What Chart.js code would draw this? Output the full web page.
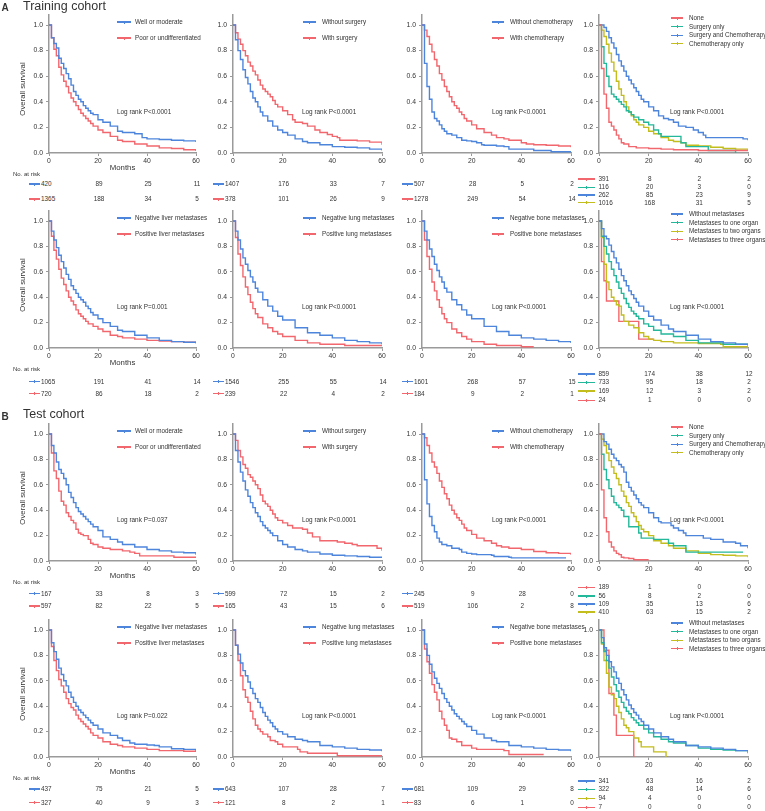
<!DOCTYPE html>
<html><head><meta charset="utf-8">
<script src="https://cdn.jsdelivr.net/npm/chart.js@4.4.1/dist/chart.umd.min.js"></script>
<style>
html,body{margin:0;padding:0;background:#fff}
body{width:765px;height:811px;position:relative;overflow:hidden;font-family:"Liberation Sans",Arial,sans-serif;color:#333}
.abs{position:absolute;white-space:nowrap;line-height:1}
canvas{position:absolute}
</style></head><body>
<script>
// ---------------- DATA ----------------
const riskMonths = [0, 20, 40, 60];

// A. Training cohort
const A1_labels = ['Well or moderate', 'Poor or undifferentiated'];
const A1_well = [[0,1],[1,0.9],[2,0.855],[3,0.82],[4,0.74],[5,0.70],[6,0.66],[7,0.62],[8,0.58],[9,0.53],[10,0.48],[11,0.45],[12,0.42],[13,0.40],[14,0.37],[15,0.35],[16,0.33],[17,0.31],[18,0.30],[20,0.26],[22,0.24],[25,0.21],[28,0.17],[30,0.16],[35,0.15],[38,0.12],[40,0.11],[45,0.105],[50,0.10],[55,0.095],[60,0.085]];
const A1_poor = [[0,1],[1,0.9],[2,0.81],[3,0.76],[4,0.67],[5,0.61],[6,0.56],[7,0.52],[8,0.47],[9,0.43],[10,0.40],[11,0.37],[12,0.34],[13,0.31],[14,0.29],[15,0.27],[16,0.25],[17,0.23],[18,0.21],[20,0.18],[22,0.16],[25,0.13],[28,0.10],[30,0.09],[35,0.07],[40,0.055],[45,0.04],[50,0.035],[55,0.025],[60,0.015]];
const A1_risk = [[420,89,25,11],[1365,188,34,5]];
const A1_p = 'Log rank P<0.0001';

const A2_labels = ['Without surgery', 'With surgery'];
const A2_without = [[0,1],[1,0.885],[2,0.80],[3,0.73],[4,0.65],[5,0.59],[6,0.54],[7,0.48],[8,0.43],[9,0.40],[10,0.36],[11,0.32],[12,0.29],[14,0.25],[16,0.21],[18,0.18],[20,0.16],[22,0.14],[25,0.11],[28,0.09],[30,0.08],[35,0.065],[40,0.05],[45,0.045],[50,0.04],[55,0.03],[60,0.02]];
const A2_with = [[0,1],[1,0.94],[2,0.89],[3,0.85],[4,0.80],[5,0.76],[6,0.71],[7,0.68],[8,0.64],[9,0.61],[10,0.57],[11,0.53],[12,0.50],[13,0.48],[14,0.46],[15,0.44],[16,0.41],[17,0.38],[18,0.36],[20,0.33],[22,0.30],[24,0.26],[25,0.24],[28,0.23],[30,0.21],[33,0.18],[35,0.16],[38,0.145],[40,0.13],[42,0.12],[43,0.10],[50,0.095],[55,0.085],[60,0.065]];
const A2_risk = [[1407,176,33,7],[378,101,26,9]];
const A2_p = 'Log rank P<0.0001';

const A3_labels = ['Without chemotherapy', 'With chemotherapy'];
const A3_without = [[0,1],[1,0.70],[2,0.52],[3,0.42],[4,0.32],[5,0.27],[6,0.25],[7,0.22],[8,0.19],[9,0.17],[10,0.15],[12,0.14],[14,0.12],[16,0.10],[18,0.095],[20,0.09],[22,0.08],[24,0.065],[25,0.06],[30,0.055],[33,0.05],[35,0.03],[45,0.02],[52,0.01],[60,0.005]];
const A3_with = [[0,1],[1,0.96],[2,0.91],[3,0.85],[4,0.79],[5,0.73],[6,0.68],[7,0.62],[8,0.57],[9,0.52],[10,0.48],[11,0.44],[12,0.40],[13,0.37],[14,0.35],[15,0.32],[16,0.30],[17,0.27],[18,0.25],[20,0.22],[22,0.19],[25,0.16],[28,0.14],[30,0.12],[33,0.11],[35,0.10],[40,0.08],[42,0.07],[45,0.065],[50,0.06],[55,0.055],[60,0.045]];
const A3_risk = [[507,28,5,2],[1278,249,54,14]];
const A3_p = 'Log rank P<0.0001';

const A4_labels = ['None', 'Surgery only', 'Surgery and Chemotherapy', 'Chemotherapy only'];
const A4_none = [[0,1],[1,0.66],[2,0.46],[3,0.35],[4,0.24],[5,0.21],[6,0.18],[7,0.14],[8,0.11],[9,0.08],[10,0.07],[12,0.05],[15,0.04],[20,0.035],[25,0.03],[30,0.025],[40,0.02],[50,0.02],[60,0.015]];
const A4_surg = [[0,1],[1,0.83],[2,0.70],[3,0.60],[4,0.52],[5,0.46],[6,0.44],[7,0.42],[8,0.40],[9,0.38],[10,0.36],[11,0.33],[12,0.32],[13,0.30],[14,0.28],[16,0.26],[18,0.24],[20,0.22],[22,0.18],[24,0.15],[25,0.13],[33,0.08],[35,0.05],[43,0.05],[44,0.02],[55,0]];
const A4_both = [[0,1],[2,0.98],[3,0.95],[4,0.90],[5,0.86],[6,0.82],[7,0.77],[8,0.72],[9,0.68],[10,0.64],[11,0.60],[12,0.57],[13,0.54],[14,0.51],[15,0.48],[16,0.45],[17,0.42],[18,0.40],[20,0.36],[22,0.33],[24,0.29],[26,0.27],[28,0.26],[30,0.24],[32,0.21],[35,0.20],[38,0.18],[40,0.16],[42,0.14],[43,0.12],[55,0.12],[58,0.11],[60,0.10]];
const A4_chemo = [[0,1],[1,0.96],[2,0.91],[3,0.85],[4,0.78],[5,0.71],[6,0.64],[7,0.56],[8,0.50],[9,0.45],[10,0.40],[11,0.36],[12,0.32],[13,0.29],[14,0.26],[15,0.24],[16,0.22],[18,0.20],[20,0.17],[22,0.15],[25,0.12],[28,0.10],[30,0.09],[33,0.08],[35,0.06],[40,0.055],[45,0.045],[50,0.035],[55,0.03],[60,0.02]];
const A4_risk = [[391,8,2,2],[116,20,3,0],[262,85,23,9],[1016,168,31,5]];
const A4_p = 'Log rank P<0.0001';

const A5_labels = ['Negative liver metastases', 'Positive liver metastases'];
const A5_neg = [[0,1],[1,0.92],[2,0.85],[3,0.79],[4,0.73],[5,0.68],[6,0.63],[7,0.58],[8,0.54],[9,0.49],[10,0.46],[11,0.43],[12,0.40],[13,0.38],[14,0.36],[15,0.33],[16,0.31],[17,0.28],[18,0.26],[20,0.23],[22,0.20],[25,0.17],[28,0.14],[30,0.13],[35,0.10],[40,0.08],[45,0.06],[50,0.05],[55,0.045],[60,0.035]];
const A5_pos = [[0,1],[1,0.88],[2,0.77],[3,0.70],[4,0.62],[5,0.55],[6,0.50],[7,0.45],[8,0.40],[9,0.37],[10,0.34],[11,0.30],[12,0.27],[13,0.25],[14,0.23],[15,0.21],[16,0.19],[18,0.17],[20,0.15],[22,0.13],[25,0.10],[28,0.09],[30,0.08],[35,0.07],[40,0.06],[45,0.055],[50,0.05],[55,0.045],[60,0.04]];
const A5_risk = [[1065,191,41,14],[720,86,18,2]];
const A5_p = 'Log rank P=0.001';

const A6_labels = ['Negative lung metastases', 'Positive lung metastases'];
const A6_neg = [[0,1],[1,0.92],[2,0.85],[3,0.78],[4,0.71],[5,0.66],[6,0.61],[7,0.56],[8,0.52],[9,0.47],[10,0.44],[12,0.38],[14,0.33],[16,0.29],[18,0.25],[20,0.22],[25,0.16],[30,0.12],[35,0.10],[40,0.08],[45,0.06],[50,0.05],[55,0.04],[60,0.03]];
const A6_pos = [[0,1],[1,0.87],[2,0.74],[3,0.65],[4,0.56],[5,0.48],[6,0.42],[7,0.36],[8,0.31],[9,0.27],[10,0.24],[12,0.19],[14,0.16],[16,0.13],[18,0.11],[20,0.09],[25,0.06],[30,0.04],[35,0.03],[45,0.02],[60,0.02]];
const A6_risk = [[1546,255,55,14],[239,22,4,2]];
const A6_p = 'Log rank P<0.0001';

const A7_labels = ['Negative bone metastases', 'Positive bone metastases'];
const A7_neg = [[0,1],[1,0.92],[2,0.85],[3,0.78],[4,0.72],[5,0.66],[6,0.61],[7,0.56],[8,0.52],[9,0.47],[10,0.44],[12,0.38],[14,0.34],[16,0.30],[18,0.26],[20,0.23],[25,0.17],[30,0.13],[35,0.10],[40,0.08],[45,0.07],[50,0.06],[55,0.05],[60,0.04]];
const A7_pos = [[0,1],[1,0.85],[2,0.72],[3,0.62],[4,0.52],[5,0.45],[6,0.38],[7,0.32],[8,0.27],[9,0.23],[10,0.20],[12,0.15],[14,0.12],[16,0.09],[18,0.07],[20,0.05],[25,0.03],[30,0.02],[40,0.01],[45,0.01]];
const A7_risk = [[1601,268,57,15],[184,9,2,1]];
const A7_p = 'Log rank P<0.0001';

const A8_labels = ['Without metastases', 'Metastases to one organ', 'Metastases to two organs', 'Metastases to three organs'];
const A8_none = [[0,1],[1,0.94],[2,0.88],[3,0.86],[4,0.81],[5,0.76],[6,0.71],[7,0.67],[8,0.62],[9,0.57],[10,0.53],[11,0.49],[12,0.45],[13,0.42],[14,0.39],[15,0.36],[16,0.33],[18,0.29],[20,0.25],[22,0.22],[25,0.18],[28,0.15],[30,0.13],[35,0.10],[40,0.07],[45,0.05],[50,0.04],[55,0.03],[60,0.02]];
const A8_one = [[0,1],[1,0.88],[2,0.80],[3,0.74],[4,0.68],[5,0.62],[6,0.57],[7,0.52],[8,0.47],[9,0.43],[10,0.39],[11,0.35],[12,0.32],[13,0.29],[14,0.27],[15,0.25],[16,0.23],[18,0.19],[20,0.17],[22,0.14],[25,0.11],[30,0.09],[35,0.06],[40,0.04],[50,0.03],[60,0.02]];
const A8_two = [[0,1],[1,0.87],[2,0.66],[3,0.52],[4,0.46],[5,0.40],[6,0.37],[7,0.34],[8,0.33],[9,0.26],[10,0.21],[12,0.18],[14,0.16],[16,0.12],[18,0.09],[20,0.07],[22,0.06],[25,0.05],[30,0.04],[40,0.035],[49,0.03],[50,0.01],[60,0.01]];
const A8_three = [[0,1],[1,0.68],[2,0.53],[3,0.37],[8,0.21],[16,0.07],[22,0.07]];
const A8_risk = [[859,174,38,12],[733,95,18,2],[169,12,3,2],[24,1,0,0]];
const A8_p = 'Log rank P<0.0001';

// B. Test cohort
const B1_well = [[0,1],[1,0.91],[2,0.85],[3,0.78],[4,0.72],[5,0.69],[6,0.65],[7,0.60],[8,0.54],[9,0.50],[10,0.46],[11,0.42],[12,0.39],[13,0.37],[14,0.35],[15,0.33],[16,0.31],[17,0.29],[18,0.27],[20,0.24],[22,0.19],[25,0.17],[28,0.15],[30,0.13],[35,0.11],[40,0.09],[45,0.08],[50,0.07],[55,0.065],[60,0.05]];
const B1_poor = [[0,1],[1,0.85],[2,0.71],[3,0.65],[4,0.55],[5,0.47],[6,0.44],[7,0.38],[8,0.35],[9,0.32],[10,0.30],[11,0.25],[12,0.22],[13,0.21],[14,0.20],[16,0.17],[17,0.14],[18,0.13],[20,0.11],[22,0.10],[25,0.09],[30,0.08],[33,0.07],[35,0.06],[37,0.04],[50,0.04],[51,0.03],[60,0.03]];
const B1_risk = [[167,33,8,3],[597,82,22,5]];
const B1_p = 'Log rank P=0.037';

const B2_without = [[0,1],[1,0.87],[2,0.78],[3,0.70],[4,0.63],[5,0.56],[6,0.51],[7,0.46],[8,0.42],[9,0.38],[10,0.35],[11,0.31],[12,0.28],[13,0.26],[14,0.24],[15,0.22],[16,0.20],[18,0.16],[20,0.13],[22,0.11],[25,0.09],[28,0.08],[30,0.07],[35,0.055],[40,0.045],[45,0.04],[50,0.035],[55,0.03],[60,0.025]];
const B2_with = [[0,1],[1,0.95],[2,0.87],[3,0.82],[4,0.76],[5,0.73],[6,0.68],[7,0.66],[8,0.63],[9,0.60],[10,0.57],[11,0.52],[12,0.47],[13,0.45],[14,0.43],[15,0.40],[16,0.37],[17,0.34],[18,0.32],[20,0.30],[22,0.28],[24,0.26],[28,0.25],[30,0.22],[32,0.19],[35,0.16],[40,0.16],[42,0.15],[45,0.14],[48,0.13],[50,0.12],[55,0.12],[58,0.10],[60,0.08]];
const B2_risk = [[599,72,15,2],[165,43,15,6]];
const B2_p = 'Log rank P<0.0001';

const B3_without = [[0,1],[1,0.64],[2,0.45],[3,0.35],[4,0.28],[5,0.23],[6,0.18],[7,0.15],[8,0.13],[10,0.12],[12,0.10],[15,0.09],[16,0.07],[18,0.06],[20,0.055],[22,0.05],[28,0.045],[29,0.035],[35,0.03],[36,0.025],[58,0.025]];
const B3_with = [[0,1],[1,0.97],[2,0.91],[3,0.85],[4,0.78],[5,0.74],[6,0.69],[7,0.63],[8,0.58],[9,0.53],[10,0.49],[11,0.44],[12,0.40],[13,0.37],[14,0.34],[15,0.32],[16,0.29],[17,0.26],[18,0.24],[20,0.21],[22,0.18],[25,0.16],[28,0.14],[30,0.12],[32,0.11],[35,0.10],[40,0.09],[45,0.075],[50,0.065],[55,0.06],[60,0.05]];
const B3_risk = [[245,9,28,0],[519,106,2,8]];
const B3_p = 'Log rank P<0.0001';

const B4_none = [[0,1],[1,0.56],[2,0.34],[3,0.23],[4,0.15],[5,0.11],[6,0.08],[7,0.06],[8,0.05],[9,0.03],[10,0.025],[12,0.02],[14,0.01],[20,0.01]];
const B4_surg = [[0,1],[1,0.84],[2,0.72],[3,0.64],[4,0.57],[5,0.51],[6,0.46],[7,0.44],[8,0.42],[9,0.40],[10,0.35],[12,0.27],[16,0.22],[17,0.18],[22,0.17],[28,0.14],[30,0.12],[35,0.07],[58,0.07]];
const B4_both = [[0,1],[2,0.94],[3,0.92],[4,0.88],[5,0.84],[6,0.81],[7,0.79],[8,0.76],[9,0.74],[10,0.70],[11,0.62],[12,0.58],[13,0.55],[14,0.52],[15,0.49],[16,0.46],[17,0.44],[18,0.42],[20,0.38],[22,0.34],[24,0.31],[25,0.30],[29,0.28],[30,0.26],[32,0.24],[34,0.22],[35,0.20],[40,0.20],[42,0.18],[45,0.17],[50,0.15],[55,0.14],[57,0.12],[60,0.10]];
const B4_chemo = [[0,1],[1,0.96],[2,0.91],[3,0.85],[4,0.79],[5,0.74],[6,0.69],[7,0.65],[8,0.60],[9,0.55],[10,0.51],[11,0.46],[12,0.43],[13,0.38],[14,0.35],[15,0.31],[16,0.28],[17,0.25],[18,0.23],[20,0.20],[22,0.16],[25,0.14],[28,0.12],[30,0.10],[35,0.08],[40,0.06],[45,0.05],[50,0.045],[55,0.04],[60,0.03]];
const B4_risk = [[189,1,0,0],[56,8,2,0],[109,35,13,6],[410,63,15,2]];
const B4_p = 'Log rank P<0.0001';

const B5_neg = [[0,1],[1,0.90],[2,0.83],[3,0.77],[4,0.70],[5,0.65],[6,0.60],[7,0.56],[8,0.51],[9,0.47],[10,0.43],[11,0.40],[12,0.37],[13,0.35],[14,0.33],[15,0.31],[16,0.29],[17,0.27],[18,0.25],[20,0.22],[22,0.19],[25,0.17],[28,0.15],[30,0.13],[33,0.11],[35,0.10],[40,0.095],[43,0.09],[45,0.08],[50,0.065],[55,0.06],[60,0.045]];
const B5_pos = [[0,1],[1,0.87],[2,0.76],[3,0.68],[4,0.61],[5,0.56],[6,0.51],[7,0.46],[8,0.42],[9,0.39],[10,0.37],[11,0.33],[12,0.30],[13,0.28],[14,0.26],[15,0.24],[16,0.22],[17,0.19],[18,0.17],[20,0.15],[22,0.12],[25,0.10],[28,0.09],[30,0.08],[35,0.07],[40,0.06],[45,0.05],[50,0.05],[55,0.045],[60,0.04]];
const B5_risk = [[437,75,21,5],[327,40,9,3]];
const B5_p = 'Log rank P=0.022';

const B6_neg = [[0,1],[1,0.88],[2,0.81],[3,0.74],[4,0.68],[5,0.64],[6,0.59],[7,0.54],[8,0.50],[9,0.46],[10,0.43],[11,0.39],[12,0.35],[13,0.32],[14,0.29],[15,0.27],[16,0.24],[17,0.22],[18,0.20],[20,0.18],[22,0.16],[25,0.14],[28,0.13],[30,0.12],[35,0.09],[40,0.08],[45,0.07],[50,0.06],[55,0.055],[60,0.045]];
const B6_pos = [[0,1],[1,0.88],[2,0.76],[3,0.64],[4,0.53],[5,0.47],[6,0.43],[7,0.36],[8,0.30],[9,0.25],[10,0.22],[11,0.20],[12,0.18],[14,0.16],[15,0.13],[17,0.12],[18,0.10],[20,0.08],[26,0.06],[27,0.04],[30,0.03],[42,0.01],[60,0.01]];
const B6_risk = [[643,107,28,7],[121,8,2,1]];
const B6_p = 'Log rank P<0.0001';

const B7_neg = [[0,1],[1,0.89],[2,0.80],[3,0.73],[4,0.67],[5,0.62],[6,0.58],[7,0.54],[8,0.50],[9,0.46],[10,0.43],[11,0.40],[12,0.37],[13,0.34],[14,0.32],[15,0.30],[16,0.28],[17,0.26],[18,0.24],[20,0.21],[22,0.18],[25,0.15],[28,0.13],[30,0.12],[35,0.09],[40,0.08],[45,0.07],[50,0.06],[55,0.055],[60,0.045]];
const B7_pos = [[0,1],[1,0.85],[2,0.75],[3,0.66],[4,0.57],[5,0.51],[6,0.45],[7,0.36],[8,0.30],[9,0.25],[10,0.21],[11,0.15],[12,0.14],[14,0.12],[16,0.09],[20,0.07],[22,0.06],[33,0.05],[35,0.02],[49,0.02]];
const B7_risk = [[681,109,29,8],[83,6,1,0]];
const B7_p = 'Log rank P<0.0001';

const B8_none = [[0,1],[1,0.94],[2,0.86],[3,0.80],[4,0.75],[5,0.71],[6,0.67],[7,0.62],[8,0.58],[9,0.53],[10,0.49],[11,0.45],[12,0.41],[13,0.38],[14,0.35],[15,0.33],[16,0.30],[17,0.28],[18,0.25],[20,0.22],[22,0.19],[25,0.16],[28,0.14],[30,0.12],[35,0.09],[40,0.08],[45,0.07],[50,0.06],[55,0.05],[60,0.03]];
const B8_one = [[0,1],[1,0.90],[2,0.83],[3,0.76],[4,0.70],[5,0.63],[6,0.57],[7,0.52],[8,0.47],[9,0.43],[10,0.39],[11,0.36],[12,0.34],[13,0.31],[14,0.29],[15,0.27],[16,0.25],[18,0.22],[20,0.19],[22,0.16],[25,0.14],[28,0.12],[30,0.11],[35,0.09],[40,0.07],[45,0.06],[50,0.055],[55,0.05],[60,0.045]];
const B8_two = [[0,1],[1,0.89],[2,0.76],[3,0.66],[4,0.55],[5,0.49],[6,0.46],[7,0.40],[8,0.35],[9,0.30],[10,0.25],[11,0.23],[12,0.20],[14,0.15],[16,0.12],[17,0.08],[20,0.08],[22,0.04],[27,0]];
const B8_three = [[0,1],[2,0.84],[4,0.50],[6,0.33],[7,0.17],[14,0]];
const B8_risk = [[341,63,16,2],[322,48,14,6],[94,4,0,0],[7,0,0,0]];
const B8_p = 'Log rank P<0.0001';

// ---------------- STYLE / LAYOUT ----------------
const BLUE = '#4d85dc', RED = '#f2676d', TEAL = '#23b89a', YELLOW = '#c3bd1e';
const FONT = '"Liberation Sans", Arial, sans-serif';
const COLS = [{l:49, r:196}, {l:233, r:382}, {l:422, r:571}, {l:599, r:748}];
const ROWS = [{y1:25, y0:153}, {y1:221, y0:348}, {y1:434, y0:561}, {y1:630, y0:757}];
const RISK2_Y = [[184,199],[381.5,393.5],[593.5,606],[789,802.5]];
const RISK4_Y = [[179,187.3,195,202.7],[374,382.3,391,400.3],[587.3,596,604,612],[781,789.3,798.3,807.3]];
const LEG_X2 = [[117,131,135],[303,316,322],[492,504,510]];
const LEG_X4 = [671,683,689];
const P_X = [117, 302, 492, 670];

const panels = [
  {row:0,col:0,labels:A1_labels,curves:[A1_well,A1_poor],colors:[BLUE,RED],risk:A1_risk,p:A1_p},
  {row:0,col:1,labels:A2_labels,curves:[A2_without,A2_with],colors:[BLUE,RED],risk:A2_risk,p:A2_p},
  {row:0,col:2,labels:A3_labels,curves:[A3_without,A3_with],colors:[BLUE,RED],risk:A3_risk,p:A3_p},
  {row:0,col:3,labels:A4_labels,curves:[A4_none,A4_surg,A4_both,A4_chemo],colors:[RED,TEAL,BLUE,YELLOW],risk:A4_risk,p:A4_p},
  {row:1,col:0,labels:A5_labels,curves:[A5_neg,A5_pos],colors:[BLUE,RED],risk:A5_risk,p:A5_p},
  {row:1,col:1,labels:A6_labels,curves:[A6_neg,A6_pos],colors:[BLUE,RED],risk:A6_risk,p:A6_p},
  {row:1,col:2,labels:A7_labels,curves:[A7_neg,A7_pos],colors:[BLUE,RED],risk:A7_risk,p:A7_p},
  {row:1,col:3,labels:A8_labels,curves:[A8_none,A8_one,A8_two,A8_three],colors:[BLUE,TEAL,YELLOW,RED],risk:A8_risk,p:A8_p},
  {row:2,col:0,labels:A1_labels,curves:[B1_well,B1_poor],colors:[BLUE,RED],risk:B1_risk,p:B1_p},
  {row:2,col:1,labels:A2_labels,curves:[B2_without,B2_with],colors:[BLUE,RED],risk:B2_risk,p:B2_p},
  {row:2,col:2,labels:A3_labels,curves:[B3_without,B3_with],colors:[BLUE,RED],risk:B3_risk,p:B3_p},
  {row:2,col:3,labels:A4_labels,curves:[B4_none,B4_surg,B4_both,B4_chemo],colors:[RED,TEAL,BLUE,YELLOW],risk:B4_risk,p:B4_p},
  {row:3,col:0,labels:A5_labels,curves:[B5_neg,B5_pos],colors:[BLUE,RED],risk:B5_risk,p:B5_p},
  {row:3,col:1,labels:A6_labels,curves:[B6_neg,B6_pos],colors:[BLUE,RED],risk:B6_risk,p:B6_p},
  {row:3,col:2,labels:A7_labels,curves:[B7_neg,B7_pos],colors:[BLUE,RED],risk:B7_risk,p:B7_p},
  {row:3,col:3,labels:A8_labels,curves:[B8_none,B8_one,B8_two,B8_three],colors:[BLUE,TEAL,YELLOW,RED],risk:B8_risk,p:B8_p}
];

function txt(s, x, y, size, o = {}) {
  const d = document.createElement('div');
  d.className = 'abs';
  d.textContent = s;
  d.style.left = x + 'px';
  d.style.top = y + 'px';
  d.style.fontSize = size + 'px';
  if (o.bold) d.style.fontWeight = 'bold';
  if (o.color) d.style.color = o.color;
  const tx = o.align === 'center' ? '-50%' : o.align === 'right' ? '-100%' : '0';
  d.style.transform = `translate(${tx},-50%)` + (o.rot ? ' rotate(-90deg)' : '');
  document.body.appendChild(d);
  return d;
}
function marker(x1, x2, y, color) {
  const l = document.createElement('div');
  l.className = 'abs';
  Object.assign(l.style, {left:x1+'px', top:(y-0.65)+'px', width:(x2-x1)+'px', height:'1.3px', background:color});
  document.body.appendChild(l);
  const t = document.createElement('div');
  t.className = 'abs';
  Object.assign(t.style, {left:((x1+x2)/2-0.5)+'px', top:(y-1.5)+'px', width:'1px', height:'3px', background:color});
  document.body.appendChild(t);
}

const axisStyle = {
  grid: {display:true, drawOnChartArea:false, drawTicks:true, tickLength:3, color:'#9a9a9a', lineWidth:1},
  border: {display:true, color:'#9a9a9a', width:1.5}
};
const tickFont = {family: FONT, size: 6.8};

function build(p) {
  const c = COLS[p.col], r = ROWS[p.row];
  const unit = r.y0 - r.y1;
  const cTop = r.y1 - 20, cLeft = c.l - 40;
  const W = (c.r - c.l) + 40 + 14, H = (r.y0 - cTop) + 18;
  const cv = document.createElement('canvas');
  cv.width = W; cv.height = H;
  cv.style.left = cLeft + 'px'; cv.style.top = cTop + 'px';
  cv.style.width = W + 'px'; cv.style.height = H + 'px';
  document.body.appendChild(cv);
  new Chart(cv, {
    type: 'line',
    data: {
      datasets: p.curves.map((d, i) => ({
        label: p.labels[i],
        data: d.map(([x, y]) => ({x, y})),
        borderColor: p.colors[i],
        backgroundColor: p.colors[i],
        borderWidth: 1.4,
        pointRadius: 0,
        stepped: true,
        fill: false
      }))
    },
    options: {
      responsive: false, animation: false, events: [], devicePixelRatio: 1,
      layout: {padding: {top: 20 - 0.08 * unit, right: 14, left: 0, bottom: 0}},
      plugins: {legend: {display: false}, tooltip: {enabled: false}, title: {display: false}},
      scales: {
        x: {type: 'linear', min: 0, max: 60,
            ticks: {stepSize: 20, includeBounds: false, font: tickFont, color: '#333', padding: 1.5, maxRotation: 0},
            ...axisStyle,
            afterFit(s) { s.height = 18; }},
        y: {type: 'linear', min: 0, max: 1.08,
            ticks: {stepSize: 0.2, includeBounds: false, font: tickFont, color: '#333', padding: 3,
                    callback: v => Number(v).toFixed(1)},
            ...axisStyle,
            afterFit(s) { s.width = 40; }}
      }
    }
  });

  // legend
  const n = p.labels.length;
  if (n === 2) {
    const lx = LEG_X2[p.col];
    [r.y1 - 3, r.y1 + 13].forEach((y, i) => {
      marker(lx[0], lx[1], y, p.colors[i]);
      txt(p.labels[i], lx[2], y, 6.3);
    });
  } else {
    [-7, 1.6, 10.2, 18.8].forEach((dy, i) => {
      const y = r.y1 + dy;
      marker(LEG_X4[0], LEG_X4[1], y, p.colors[i]);
      txt(p.labels[i], LEG_X4[2], y, 6.3);
    });
  }
  // log-rank
  txt(p.p, P_X[p.col], r.y0 - 41, 6.4);

  // risk table
  const ys = n === 2 ? RISK2_Y[p.row] : RISK4_Y[p.row];
  p.risk.forEach((vals, i) => {
    const y = ys[i];
    if (n === 2) {
      marker(c.l - 20, c.l - 9, y, p.colors[i]);
      txt(String(vals[0]), c.l - 8, y, 6.4);
    } else {
      marker(c.l - 21, c.l - 4, y, p.colors[i]);
      txt(String(vals[0]), c.l - 0.5, y, 6.4);
    }
    for (let k = 1; k < riskMonths.length; k++) {
      const x = c.l + (c.r - c.l) * riskMonths[k] / 60;
      txt(String(vals[k]), x + 1, y, 6.4, {align: 'center'});
    }
  });

  if (p.col === 0) {
    txt('Overall survival', 23, (r.y0 + r.y1) / 2, 7.8, {align: 'center', rot: true});
    txt('Months', (c.l + c.r) / 2, r.y0 + 15, 7.8, {align: 'center'});
    txt('No. at risk', 13, r.y0 + 20.5, 6);
  }
}

panels.forEach(build);

txt('A', 1.5, 8, 10, {bold: true});
txt('Training cohort', 23, 5.5, 12.5);
txt('B', 1.5, 416.5, 10, {bold: true});
txt('Test cohort', 23, 414, 12.5);
</script>
</body></html>
